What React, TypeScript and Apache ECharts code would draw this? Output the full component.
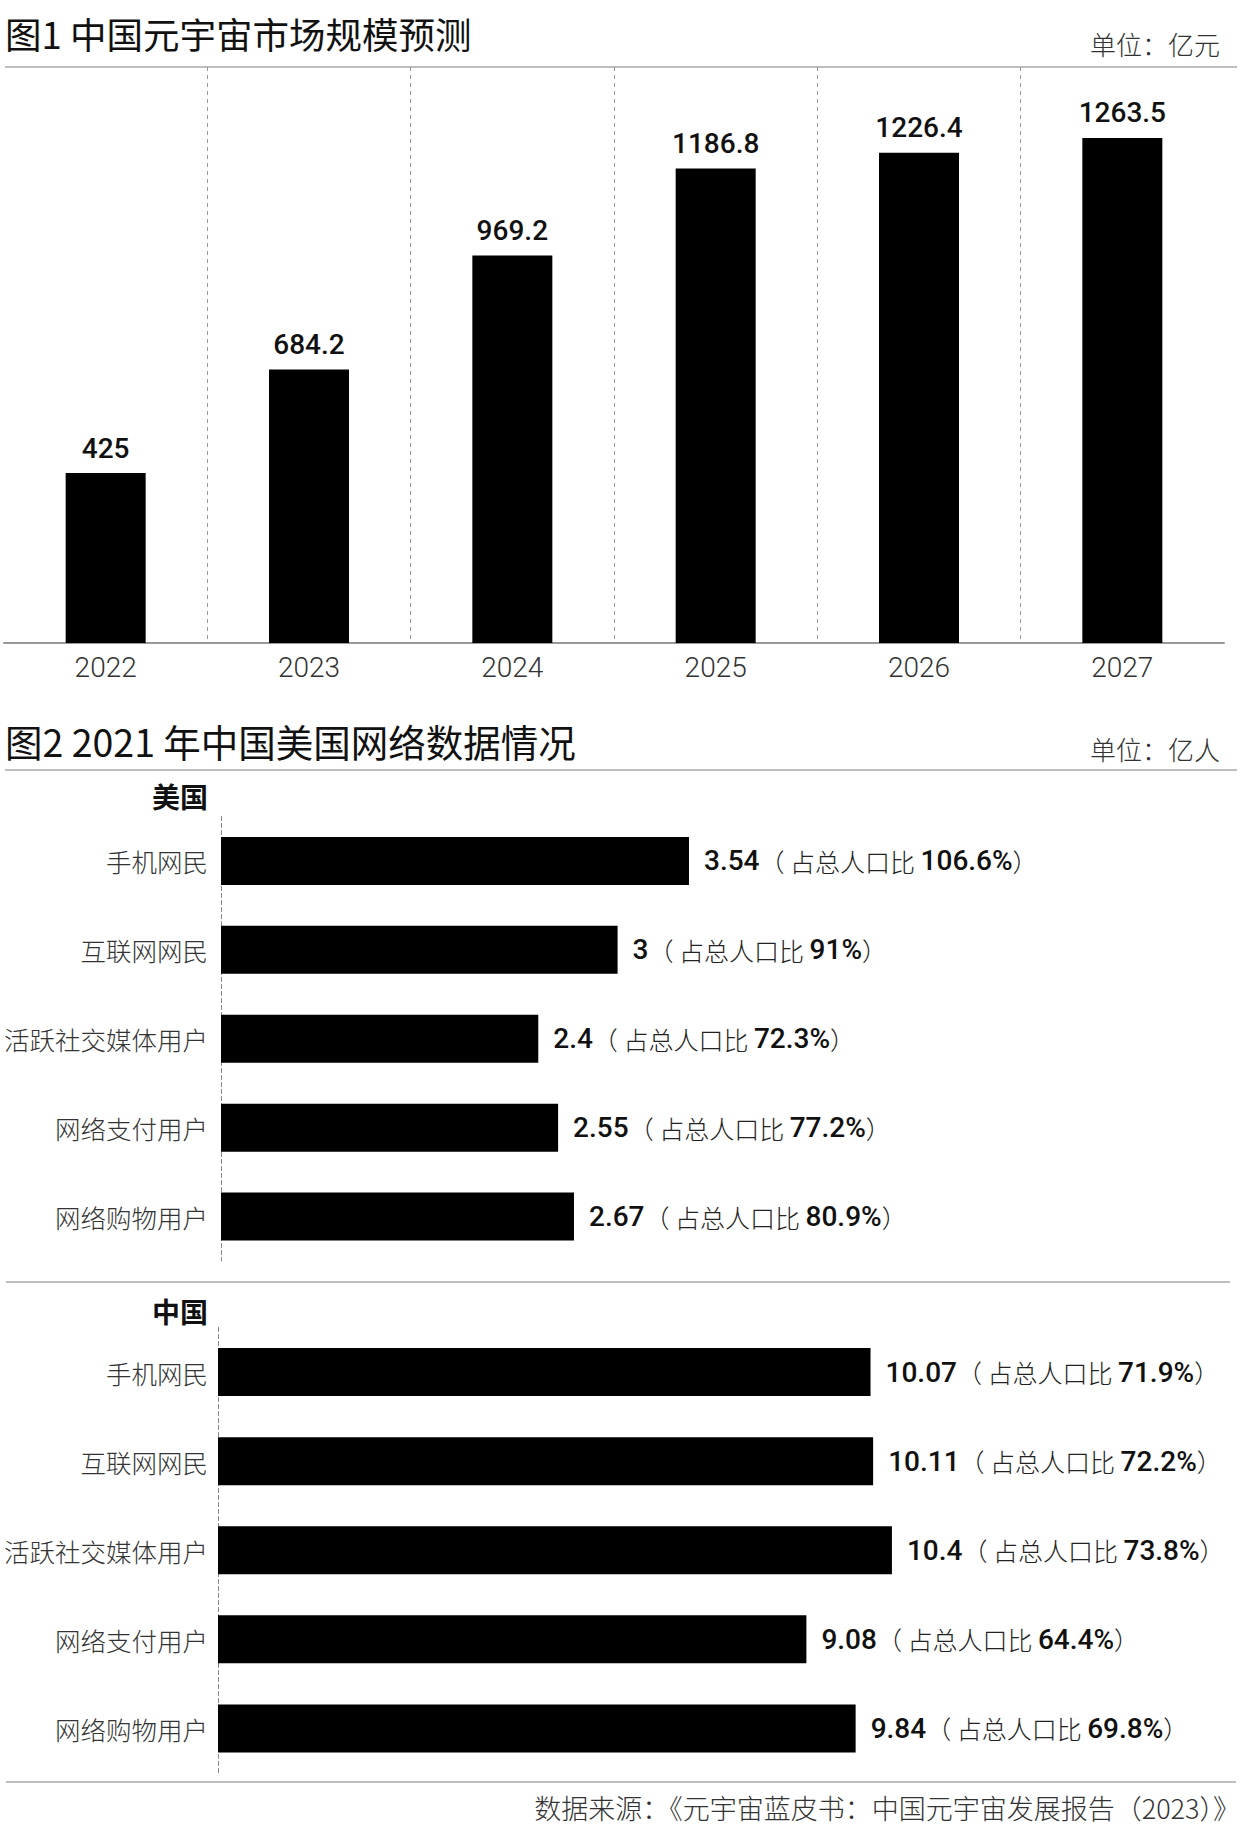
import React, { useEffect, useRef } from "react";
import * as echarts from "echarts";

const years = ["2022", "2023", "2024", "2025", "2026", "2027"];
const marketSize = [425, 684.2, 969.2, 1186.8, 1226.4, 1263.5];

const netCategories = ["手机网民", "互联网网民", "活跃社交媒体用户", "网络支付用户", "网络购物用户"];
const usUsers = [3.54, 3, 2.4, 2.55, 2.67];
const usShare = [106.6, 91, 72.3, 77.2, 80.9];
const cnUsers = [10.07, 10.11, 10.4, 9.08, 9.84];
const cnShare = [71.9, 72.2, 73.8, 64.4, 69.8];

const title1 = "图1 中国元宇宙市场规模预测";
const unit1 = "单位：亿元";
const title2 = "图2 2021 年中国美国网络数据情况";
const unit2 = "单位：亿人";
const usLabel = "美国";
const cnLabel = "中国";
const sourceText = "数据来源：《元宇宙蓝皮书：中国元宇宙发展报告（2023）》";

const CJK = "'Noto Sans CJK SC', 'Noto Sans', sans-serif";
const NUM = "Roboto, 'Noto Sans', sans-serif";

export default function App() {
  const ref = useRef<HTMLDivElement>(null);

  useEffect(() => {
    document.body.style.margin = "0";
    if (!ref.current) return;
    const chart = echarts.init(ref.current, null, { renderer: "svg" });

    const hLine = (x1: number, x2: number, y: number) => ({
      type: "line",
      shape: { x1, y1: y, x2, y2: y },
      style: { stroke: "#a8a8a8", lineWidth: 1.5 },
      silent: true,
    });

    const catAxis = (gridIndex: number, margin: number) => ({
      type: "category",
      gridIndex,
      data: netCategories,
      inverse: true,
      axisLine: { show: true, lineStyle: { color: "#888", type: [4, 3], width: 1 } },
      axisTick: { show: false },
      axisLabel: {
        interval: 0,
        margin,
        fontSize: 25.5,
        fontWeight: 300,
        color: "#333",
        fontFamily: CJK,
      },
    });

    const valueLabel = (shares: number[]) => ({
      show: true,
      position: "right",
      distance: 15,
      formatter: (p: any) => `{n|${p.value}}{t|（ 占总人口比 }{n|${shares[p.dataIndex]}%}{t|）}`,
      rich: {
        n: { fontSize: 28, fontWeight: 500, color: "#111", fontFamily: NUM },
        t: { fontSize: 25, fontWeight: 300, color: "#222", fontFamily: CJK },
      },
    });

    const titleStyle = (fontSize: number, fontWeight: any, color = "#111") => ({
      fontSize,
      fontWeight,
      color,
      fontFamily: CJK,
    });

    chart.setOption({
      animation: false,
      backgroundColor: "#fff",
      title: [
        { text: title1, left: 5, top: 15, padding: 0, textStyle: titleStyle(36.5, 400) },
        { text: unit1, right: 22, top: 30, padding: 0, textStyle: titleStyle(26, 300, "#333") },
        { text: title2, left: 5, top: 722, padding: 0, textStyle: titleStyle(37.5, 400) },
        { text: unit2, right: 22, top: 735, padding: 0, textStyle: titleStyle(26, 300, "#333") },
        { text: usLabel, right: 1034, top: 782, padding: 0, textStyle: titleStyle(28, 700) },
        { text: cnLabel, right: 1034, top: 1297, padding: 0, textStyle: titleStyle(28, 700) },
        { text: sourceText, right: 2, top: 1794, padding: 0, textStyle: titleStyle(27, 300, "#333") },
      ],
      graphic: [hLine(5, 1237, 67), hLine(5, 1237, 770), hLine(6, 1230, 1282), hLine(6, 1236, 1782)],
      grid: [
        { left: 4, top: 67, width: 1220, height: 576 },
        { left: 221, top: 816.5, width: 991.5, height: 444.5 },
        { left: 218, top: 1327.5, width: 972, height: 445.5 },
      ],
      xAxis: [
        {
          type: "category",
          gridIndex: 0,
          data: years,
          boundaryGap: true,
          axisLine: { show: true, lineStyle: { color: "#999", width: 2 } },
          axisTick: { show: false },
          axisLabel: {
            interval: 0,
            margin: 10,
            fontSize: 28,
            fontWeight: 300,
            color: "#333",
            fontFamily: NUM,
          },
          splitLine: {
            show: true,
            interval: 0,
            showMinLine: false,
            showMaxLine: false,
            lineStyle: { color: "#999", type: [4, 4], width: 1 },
          },
        },
        { type: "value", gridIndex: 1, min: 0, max: 7.5, show: false },
        { type: "value", gridIndex: 2, min: 0, max: 15, show: false },
      ],
      yAxis: [
        { type: "value", gridIndex: 0, min: 0, max: 1441, show: false },
        catAxis(1, 13),
        catAxis(2, 10),
      ],
      series: [
        {
          type: "bar",
          xAxisIndex: 0,
          yAxisIndex: 0,
          data: marketSize,
          barWidth: 80,
          itemStyle: { color: "#000" },
          label: {
            show: true,
            position: "top",
            distance: 11,
            fontSize: 28,
            fontWeight: 500,
            color: "#111",
            fontFamily: NUM,
          },
        },
        {
          type: "bar",
          xAxisIndex: 1,
          yAxisIndex: 1,
          data: usUsers,
          barWidth: 48,
          itemStyle: { color: "#000" },
          label: valueLabel(usShare),
        },
        {
          type: "bar",
          xAxisIndex: 2,
          yAxisIndex: 2,
          data: cnUsers,
          barWidth: 48,
          itemStyle: { color: "#000" },
          label: valueLabel(cnShare),
        },
      ],
    });

    return () => chart.dispose();
  }, []);

  return <div ref={ref} style={{ width: 1242, height: 1833 }} />;
}
